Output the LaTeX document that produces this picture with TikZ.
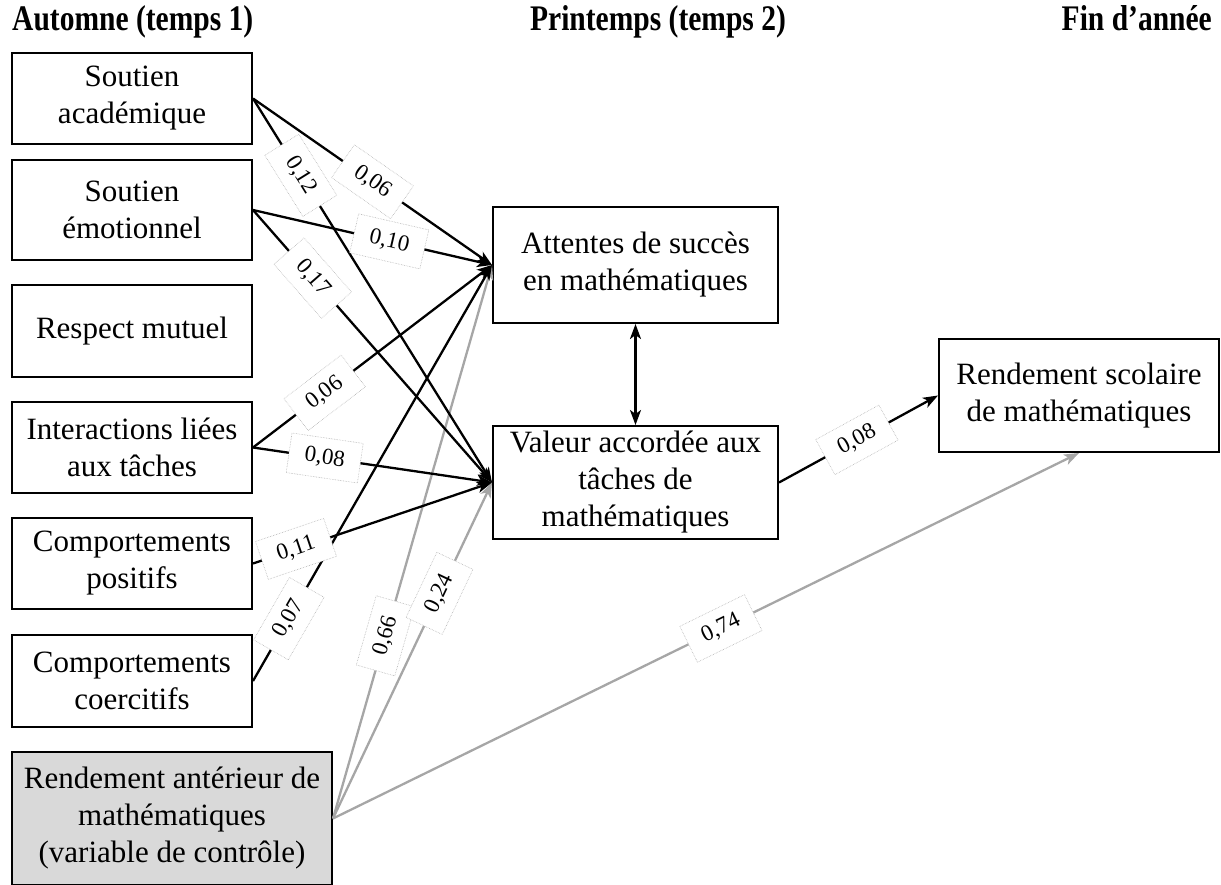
\documentclass[tikz,border=0pt]{standalone}
\usepackage{fontspec}
\usepackage{graphicx}
\setmainfont{Liberation Serif}
\usetikzlibrary{arrows.meta}
\definecolor{lineg}{RGB}{166,166,166}
\definecolor{boxg}{RGB}{217,217,217}
\begin{document}
\begin{tikzpicture}[x=1pt,y=-1pt,
  vbox/.style={draw, line width=2pt, align=center, inner sep=0pt, font=\fontsize{31}{37}\selectfont},
  lbox/.style={vbox, minimum width=240pt},
  coef/.style={fill=white, draw=black!30, densely dotted, line width=0.6pt, sloped, minimum width=72pt, minimum height=40pt, inner sep=0pt, font=\fontsize{23}{26}\selectfont},
  tip/.style={},
  arr/.style={line width=2.3pt, -{Stealth[length=15pt,width=11pt,inset=4pt]}},
  garr/.style={arr, draw=lineg},
  ttl/.style={font=\fontsize{36}{40}\selectfont\bfseries, inner sep=0pt}
]
\useasboundingbox (0,0) rectangle (1221,885);

% titles
\node[ttl, anchor=base west] (t1) at (12,31) {\scalebox{0.82}[1]{Automne (temps 1)}};
\node[ttl, anchor=base] (t2) at (658,31) {\scalebox{0.82}[1]{Printemps (temps 2)}};
\node[ttl, anchor=base east] (t3) at (1212,31) {\scalebox{0.82}[1]{Fin d’année}};

% left column
\node[lbox, minimum height=91pt] (sa) at (132,98.5) {Soutien\\académique};
\node[lbox, minimum height=100pt] (se) at (132,210) {Soutien\\émotionnel};
\node[lbox, minimum height=92pt] (rm) at (132,331) {Respect mutuel};
\node[lbox, minimum height=91pt] (it) at (132,447.5) {Interactions liées\\aux tâches};
\node[lbox, minimum height=91pt] (cp) at (132,563.5) {Comportements\\positifs};
\node[lbox, minimum height=92pt] (cc) at (132,681) {Comportements\\coercitifs};
\node[vbox, fill=boxg, minimum width=320pt, minimum height=133pt] (ra) at (172,818.5) {Rendement antérieur de\\mathématiques\\(variable de contrôle)};

% middle and right
\node[vbox, minimum width=285pt, minimum height=116pt] (att) at (635.5,265) {Attentes de succès\\en mathématiques};
\node[vbox, minimum width=285pt, minimum height=113pt] (val) at (635.5,482.5) {Valeur accordée aux\\tâches de\\mathématiques};
\node[vbox, minimum width=280pt, minimum height=113pt] (rs) at (1079,395.5) {Rendement scolaire\\de mathématiques};

% connectors
\draw[garr] (ra.east) -- (att.west);
\draw[garr] (ra.east) -- (val.west);
\draw[garr] (ra.east) -- (rs.south);
\draw[arr] (sa.east) -- (att.west);
\draw[arr] (sa.east) -- (val.west);
\draw[arr] (se.east) -- (att.west);
\draw[arr] (se.east) -- (val.west);
\draw[arr] (it.east) -- (att.west);
\draw[arr] (it.east) -- (val.west);
\draw[arr] (cp.east) -- (val.west);
\draw[arr] (cc.east) -- (att.west);
\draw[arr] (val.east) -- (rs.west);
\draw[line width=2.3pt, {Stealth[length=15pt,width=11pt,inset=4pt]}-{Stealth[length=15pt,width=11pt,inset=4pt]}] (att.south) -- (val.north);

% coefficients
\path (sa.east) -- node[coef, pos=0.5] (l1) {0,06} (att.west);
\path (sa.east) -- node[coef, pos=0.2] (l2) {0,12} (val.west);
\path (se.east) -- node[coef, pos=0.57] (l3) {0,10} (att.west);
\path (se.east) -- node[coef, pos=0.25] (l4) {0,17} (val.west);
\path (it.east) -- node[coef, pos=0.3] (l5) {0,06} (att.west);
\path (it.east) -- node[coef, pos=0.3] (l6) {0,08} (val.west);
\path (cp.east) -- node[coef, pos=0.18] (l7) {0,11} (val.west);
\path (cc.east) -- node[coef, pos=0.15] (l8) {0,07} (att.west);
\path (ra.east) -- node[coef, pos=0.33] (l9) {0,66} (att.west);
\path (ra.east) -- node[coef, pos=0.67] (l10) {0,24} (val.west);
\path (ra.east) -- node[coef, pos=0.52] (l11) {0,74} (rs.south);
\path (val.east) -- node[coef, pos=0.49] (l12) {0,08} (rs.west);
\end{tikzpicture}
\end{document}
